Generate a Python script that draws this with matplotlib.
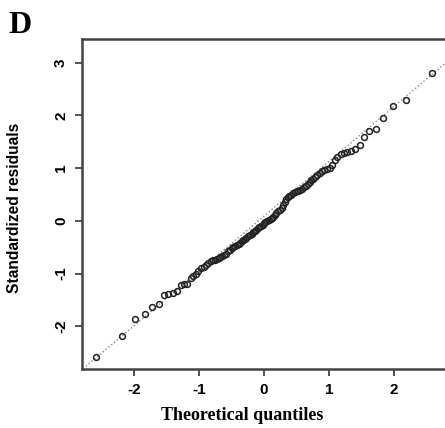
import numpy as np
import matplotlib
matplotlib.use('Agg')
import matplotlib.pyplot as plt

theo_q = [-2.59, -2.19, -1.98, -1.83, -1.72, -1.62, -1.54, -1.47, -1.40, -1.34,
          -1.28, -1.23, -1.18, -1.13, -1.09, -1.05, -1.01, -0.97, -0.93, -0.89,
          -0.86, -0.82, -0.79, -0.76, -0.73, -0.70, -0.67, -0.64, -0.61, -0.58,
          -0.55, -0.52, -0.50, -0.47, -0.44, -0.42, -0.39, -0.37, -0.34, -0.32,
          -0.29, -0.27, -0.24, -0.22, -0.19, -0.17, -0.14, -0.12, -0.10, -0.07,
          -0.05, -0.02, 0.00, 0.02, 0.05, 0.07, 0.10, 0.12, 0.14, 0.17,
          0.19, 0.22, 0.24, 0.27, 0.29, 0.32, 0.34, 0.37, 0.39, 0.42,
          0.44, 0.47, 0.50, 0.52, 0.55, 0.58, 0.61, 0.64, 0.67, 0.70,
          0.73, 0.76, 0.79, 0.82, 0.86, 0.89, 0.93, 0.97, 1.01, 1.05,
          1.09, 1.13, 1.18, 1.23, 1.28, 1.34, 1.40, 1.47, 1.54, 1.62,
          1.72, 1.83, 1.98, 2.19, 2.59]

# Sorted standardized residuals
std_resid = [-2.58, -2.18, -1.86, -1.77, -1.63, -1.58, -1.41, -1.38, -1.36, -1.33,
             -1.22, -1.20, -1.19, -1.08, -1.05, -1.00, -0.95, -0.90, -0.87, -0.84,
             -0.80, -0.77, -0.75, -0.74, -0.72, -0.71, -0.69, -0.67, -0.65, -0.62,
             -0.58, -0.55, -0.52, -0.50, -0.48, -0.46, -0.44, -0.42, -0.39, -0.37,
             -0.34, -0.32, -0.29, -0.27, -0.24, -0.22, -0.19, -0.17, -0.14, -0.12,
             -0.10, -0.07, -0.04, -0.02, 0.00, 0.02, 0.04, 0.06, 0.08, 0.12,
             0.15, 0.18, 0.21, 0.25, 0.30, 0.36, 0.41, 0.45, 0.48, 0.50,
             0.52, 0.54, 0.56, 0.57, 0.59, 0.61, 0.64, 0.67, 0.70, 0.73,
             0.77, 0.80, 0.83, 0.87, 0.91, 0.94, 0.96, 0.98, 1.00, 1.06,
             1.15, 1.22, 1.27, 1.29, 1.31, 1.33, 1.37, 1.44, 1.59, 1.70,
             1.74, 1.95, 2.17, 2.30, 2.81]

# reference line (qqline)
line_x = [-3.0, 3.0]
line_y = [-3.03, 3.21]

x_ticks = [-2, -1, 0, 1, 2]
y_ticks = [-2, -1, 0, 1, 2, 3]

sans = 'Liberation Sans'
serif = 'Liberation Serif'

W, H = 445, 428
fig = plt.figure(figsize=(4.45, 4.28), dpi=100)
ax = fig.add_axes([82/W, 1 - 369/H, (447 - 82)/W, (369 - 39)/H])

ax.plot(line_x, line_y, ':', color='#888888', lw=1.0, zorder=1)
ax.plot(theo_q, std_resid, 'o', mfc='none', mec='#222222', mew=1.1, ms=4.2, zorder=2)

ax.set_xlim(-2.80, 2.815)
ax.set_ylim(-2.81, 3.45)

ax.set_xticks(x_ticks)
ax.set_yticks(y_ticks)
ax.set_xticklabels([str(t) for t in x_ticks], fontfamily=sans, fontweight='bold', fontsize=11)
ax.set_yticklabels([str(t) for t in y_ticks], fontfamily=sans, fontweight='bold', fontsize=11,
                   rotation=90, va='center')
ax.tick_params(axis='both', direction='out', length=5, width=1.3, color='#444444', pad=5)

for s in ax.spines.values():
    s.set_linewidth(1.8)
    s.set_color('#444444')

# axis titles placed as in the reference
fig.text(242/W, 1 - 415/H, 'Theoretical quantiles', fontfamily=serif, fontweight='bold',
         fontsize=13, ha='center', va='center')
fig.text(15/W, 1 - 208/H, 'Standardized residuals', fontfamily=sans, fontweight='bold',
         fontsize=11.2, rotation=90, ha='center', va='center')

fig.text(8/W, 1 - 33/H, 'D', fontfamily=serif, fontweight='bold', fontsize=23,
         va='baseline', ha='left')

fig.savefig('out.png', dpi=100)
